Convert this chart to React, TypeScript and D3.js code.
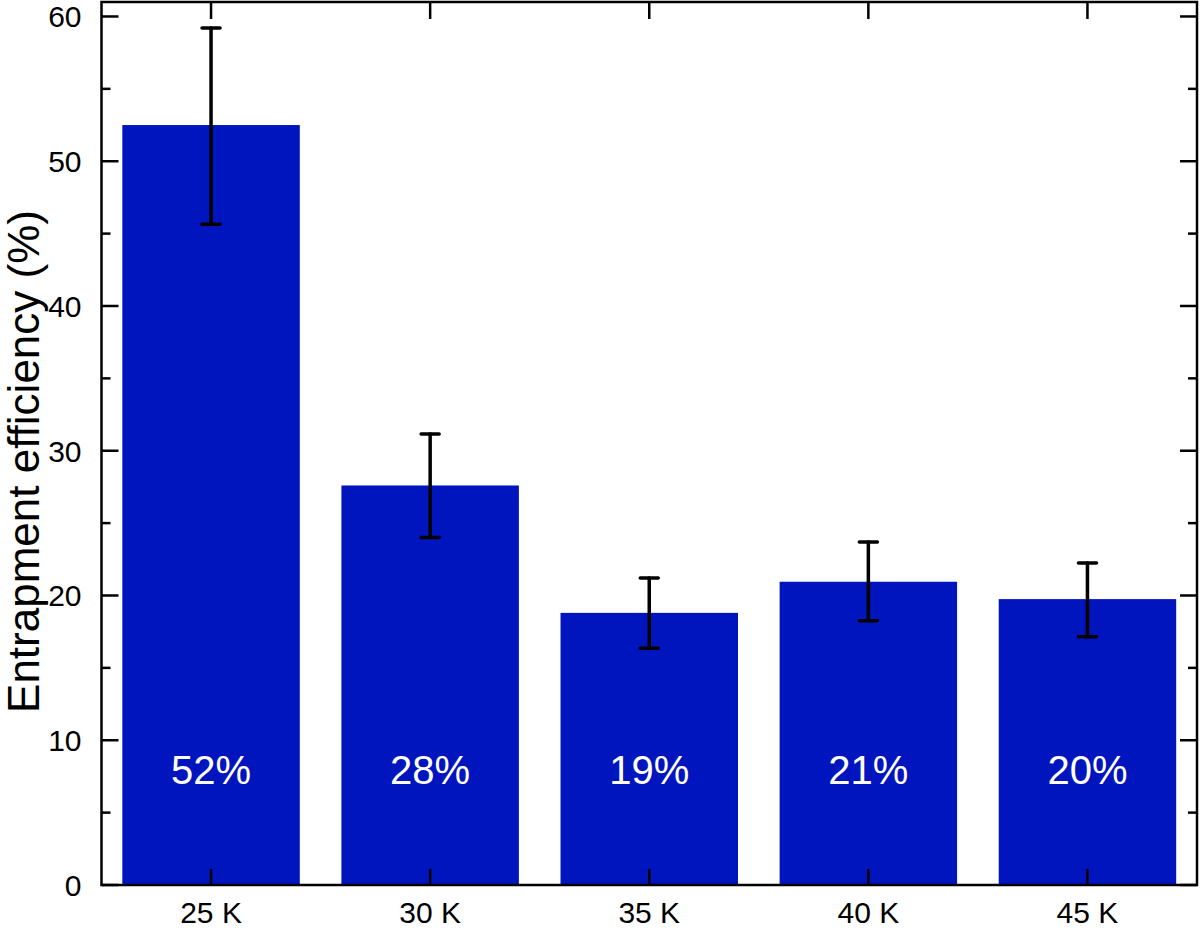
import React from "react";
import * as d3 from "d3";

const categories = ["25 K", "30 K", "35 K", "40 K", "45 K"];
const values = [52.5, 27.6, 18.8, 20.95, 19.75];
const errHigh = [59.2, 31.15, 21.2, 23.7, 22.25];
const errLow = [45.65, 24.0, 16.35, 18.25, 17.15];
const barLabels = ["52%", "28%", "19%", "21%", "20%"];
const majorTicks = [0, 10, 20, 30, 40, 50, 60];
const minorTicks = [5, 15, 25, 35, 45, 55];

const W = 1200;
const H = 930;
const L = 101.5;
const R = 1197;
const T = 2;
const B = 885;
const FONT = "'Liberation Sans', Arial, Helvetica, sans-serif";

export default function App() {
  const x = d3.scaleBand<string>().domain(categories).range([L, R]).paddingInner(0.19).paddingOuter(0.095);
  const y = d3.scaleLinear().domain([0, 61]).range([B, T]);
  const bw = x.bandwidth();
  const cx = (c: string) => (x(c) as number) + bw / 2;

  return (
    <svg width={W} height={H} style={{ position: "absolute", left: 0, top: 0, background: "#fff" }} fontFamily={FONT}>
      {categories.map((c, i) => (
        <rect key={c} x={x(c)} y={y(values[i])} width={bw} height={B - y(values[i])} fill="#0015BE" />
      ))}
      {categories.map((c, i) => (
        <g key={"e" + c} stroke="#000" strokeWidth={3.5} strokeLinecap="round">
          <line x1={cx(c)} x2={cx(c)} y1={y(errHigh[i])} y2={y(errLow[i])} />
          <line x1={cx(c) - 9} x2={cx(c) + 9} y1={y(errHigh[i])} y2={y(errHigh[i])} />
          <line x1={cx(c) - 9} x2={cx(c) + 9} y1={y(errLow[i])} y2={y(errLow[i])} />
        </g>
      ))}
      {categories.map((c, i) => (
        <text key={"l" + c} x={cx(c)} y={y(7)} fill="#fff" fontSize={40} textAnchor="middle">
          {barLabels[i]}
        </text>
      ))}
      <rect x={L} y={T} width={R - L} height={B - T} fill="none" stroke="#000" strokeWidth={2.5} />
      {majorTicks.map((t) => (
        <g key={"my" + t} stroke="#000" strokeWidth={2.5}>
          <line x1={L} x2={L + 17} y1={y(t)} y2={y(t)} />
          <line x1={R} x2={R - 17} y1={y(t)} y2={y(t)} />
        </g>
      ))}
      {minorTicks.map((t) => (
        <g key={"ny" + t} stroke="#000" strokeWidth={2.5}>
          <line x1={L} x2={L + 9} y1={y(t)} y2={y(t)} />
          <line x1={R} x2={R - 9} y1={y(t)} y2={y(t)} />
        </g>
      ))}
      {majorTicks.map((t) => (
        <text key={"ty" + t} x={L - 20} y={y(t)} dy="0.36em" fontSize={30} textAnchor="end" fill="#000">
          {t}
        </text>
      ))}
      {categories.map((c) => (
        <g key={"xt" + c} stroke="#000" strokeWidth={2.5}>
          <line x1={cx(c)} x2={cx(c)} y1={B} y2={B - 16} />
          <line x1={cx(c)} x2={cx(c)} y1={T} y2={T + 17} />
        </g>
      ))}
      {categories.map((c) => (
        <text key={"xl" + c} x={cx(c)} y={923} fontSize={30} textAnchor="middle" fill="#000">
          {c}
        </text>
      ))}
      <text transform={`translate(39, ${(T + B) / 2 + 18}) rotate(-90)`} fontSize={44} textAnchor="middle" fill="#000">
        Entrapment efficiency (%)
      </text>
    </svg>
  );
}
